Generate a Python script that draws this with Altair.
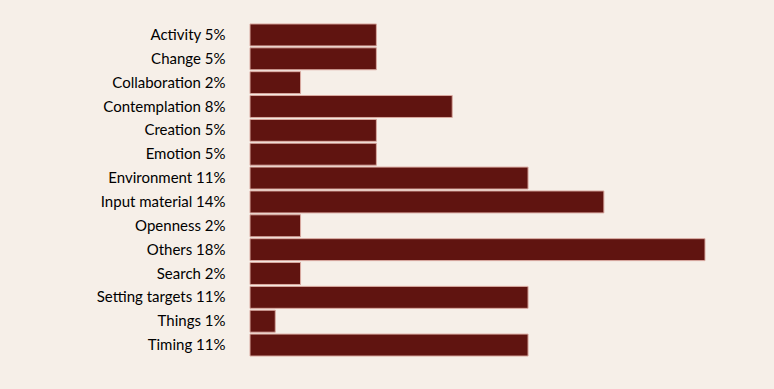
import altair as alt
import pandas as pd

categories = ["Activity", "Change", "Collaboration", "Contemplation", "Creation",
              "Emotion", "Environment", "Input material", "Openness", "Others",
              "Search", "Setting targets", "Things", "Timing"]
values = [5, 5, 2, 8, 5, 5, 11, 14, 2, 18, 2, 11, 1, 11]

df = pd.DataFrame({"category": categories, "value": values})
df["label"] = [f"{c} {v}%" for c, v in zip(categories, values)]
order = df["label"].tolist()

chart = alt.Chart(df).mark_bar(
    color="#601410", stroke="#d9a9a0", strokeWidth=1
).encode(
    x=alt.X("value:Q", scale=alt.Scale(domain=[0, 18], nice=False), axis=None),
    y=alt.Y("label:N", sort=order,
            scale=alt.Scale(paddingInner=0.08, paddingOuter=0.04),
            axis=alt.Axis(title=None, domain=False, ticks=False, labelPadding=25,
                          labelFont="Lato", labelFontSize=15, labelColor="#000000",
                          grid=False)),
).properties(
    width=455, height=334,
    autosize=alt.AutoSizeParams(type="none"),
    padding={"left": 250, "top": 23, "right": 69, "bottom": 32},
    background="#f6efe8",
).configure_view(stroke=None)

chart.save("out.html", embed_options={"renderer": "svg", "actions": False})
